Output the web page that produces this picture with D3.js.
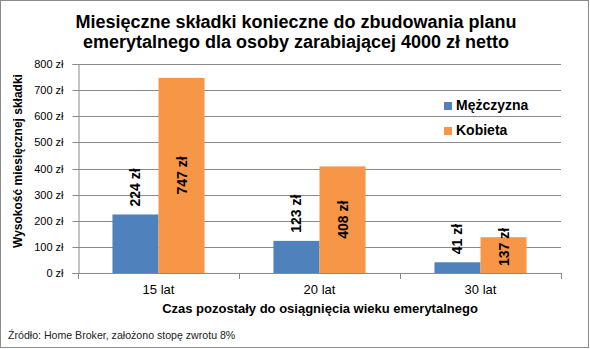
<!DOCTYPE html>
<html><head><meta charset="utf-8">
<script src="https://cdn.jsdelivr.net/npm/d3@7"></script>
<style>
body{margin:0;background:#fff;}
svg{display:block;font-family:"Liberation Sans",Arial,sans-serif;}
</style></head>
<body><svg id="c" width="590" height="349"></svg>
<script>
const categories = ["15 lat", "20 lat", "30 lat"];
const seriesNames = ["Mężczyzna", "Kobieta"];
const men = [224, 123, 41];
const women = [747, 408, 137];
const yTicks = [0, 100, 200, 300, 400, 500, 600, 700, 800];
const titleLines = ["Miesięczne składki konieczne do zbudowania planu", "emerytalnego dla osoby zarabiającej 4000 zł netto"];
const colors = ["#4F81BD", "#F79646"];

const svg = d3.select("#c");
svg.append("rect").attr("x",0.5).attr("y",0.5).attr("width",588).attr("height",347)
  .attr("fill","#fff").attr("stroke","#8c8c8c");

const x0 = d3.scaleBand().domain(categories).range([78, 561]);
const bw = x0.bandwidth();
const x1 = d3.scaleBand().domain(seriesNames).range([bw*0.214, bw*0.786]);
const y = d3.scaleLinear().domain([0, 800]).range([273, 64]);

// gridlines
svg.append("g").selectAll("line").data(yTicks.filter(d=>d>0)).join("line")
  .attr("x1",78).attr("x2",561).attr("y1",d=>Math.round(y(d))+0.5).attr("y2",d=>Math.round(y(d))+0.5)
  .attr("stroke","#8a8a8a").attr("stroke-width",1);

// y axis
const yAxis = svg.append("g").attr("transform","translate(78.5,0)")
  .call(d3.axisLeft(y).tickValues(yTicks).tickFormat(d=>d+" zł").tickSize(6).tickPadding(9));
yAxis.select(".domain").attr("stroke","#8a8a8a");
yAxis.selectAll(".tick line").attr("stroke","#8a8a8a");
yAxis.selectAll("text").attr("font-size","11px").attr("fill","#000").attr("font-family","Liberation Sans, Arial, sans-serif");
yAxis.selectAll(".tick").attr("transform",d=>`translate(0,${Math.round(y(d))+0.5})`);

// bars
const data = categories.map((c,i)=>({c, vals:[men[i], women[i]]}));
const groups = svg.append("g").selectAll("g").data(data).join("g")
  .attr("transform",d=>`translate(${x0(d.c)},0)`);
groups.selectAll("rect").data(d=>d.vals.map((v,j)=>({v,s:seriesNames[j],j}))).join("rect")
  .attr("x",d=>x1(d.s)).attr("width",x1.bandwidth())
  .attr("y",d=>y(d.v)).attr("height",d=>y(0)-y(d.v))
  .attr("fill",d=>colors[d.j]);

// x axis
svg.append("line").attr("x1",78).attr("x2",561).attr("y1",273.5).attr("y2",273.5).attr("stroke","#8a8a8a");
const bounds = categories.map(c=>x0(c)).concat([x0(categories[categories.length-1])+bw]);
svg.append("g").selectAll("line").data(bounds).join("line")
  .attr("x1",d=>Math.round(d)+0.5).attr("x2",d=>Math.round(d)+0.5).attr("y1",273).attr("y2",279)
  .attr("stroke","#8a8a8a");
svg.append("g").selectAll("text").data(categories).join("text")
  .attr("x",d=>x0(d)+bw/2).attr("y",294).attr("text-anchor","middle")
  .attr("font-size","13px").text(d=>d);

// data labels
groups.selectAll("text").data(d=>d.vals.map((v,j)=>({v,s:seriesNames[j],j}))).join("text")
  .attr("transform",d=>{
    const cx = x1(d.s)+x1.bandwidth()/2;
    let cy;
    if(d.j===0){ cy = y(d.v)-8; return `translate(${cx+5},${cy}) rotate(-90)`; }
    cy = (y(d.v)+y(0))/2;
    cy = Math.min(cy, y(0)-26);
    return `translate(${cx+5},${cy}) rotate(-90)`;
  })
  .attr("text-anchor",d=>d.j===0?"start":"middle")
  .attr("font-size","14px").attr("font-weight","bold").attr("fill","#000")
  .text(d=>d.v+" zł");

// title
svg.append("text").attr("x",296).attr("y",28).attr("text-anchor","middle")
  .attr("font-size","18px").attr("font-weight","bold")
  .selectAll("tspan").data(titleLines).join("tspan")
  .attr("x",296).attr("dy",(d,i)=>i?20:0).text(d=>d);

// y title
svg.append("text").attr("transform","translate(22,161) rotate(-90)").attr("text-anchor","middle")
  .attr("font-size","12px").attr("font-weight","bold").text("Wysokość miesięcznej składki");

// x title
svg.append("text").attr("x",320).attr("y",313).attr("text-anchor","middle")
  .attr("font-size","13px").attr("font-weight","bold").text("Czas pozostały do osiągnięcia wieku emerytalnego");

// legend
const lg = svg.append("g").selectAll("g").data(seriesNames).join("g")
  .attr("transform",(d,i)=>`translate(444,${102+i*25})`);
lg.append("rect").attr("width",8).attr("height",8).attr("fill",(d,i)=>colors[i]);
lg.append("text").attr("x",12).attr("y",8).attr("font-size","14px").attr("font-weight","bold").text(d=>d);

// source
svg.append("text").attr("x",8).attr("y",339).attr("font-size","10.6px").attr("fill","#222")
  .text("Źródło: Home Broker, założono stopę zwrotu 8%");
</script></body></html>
